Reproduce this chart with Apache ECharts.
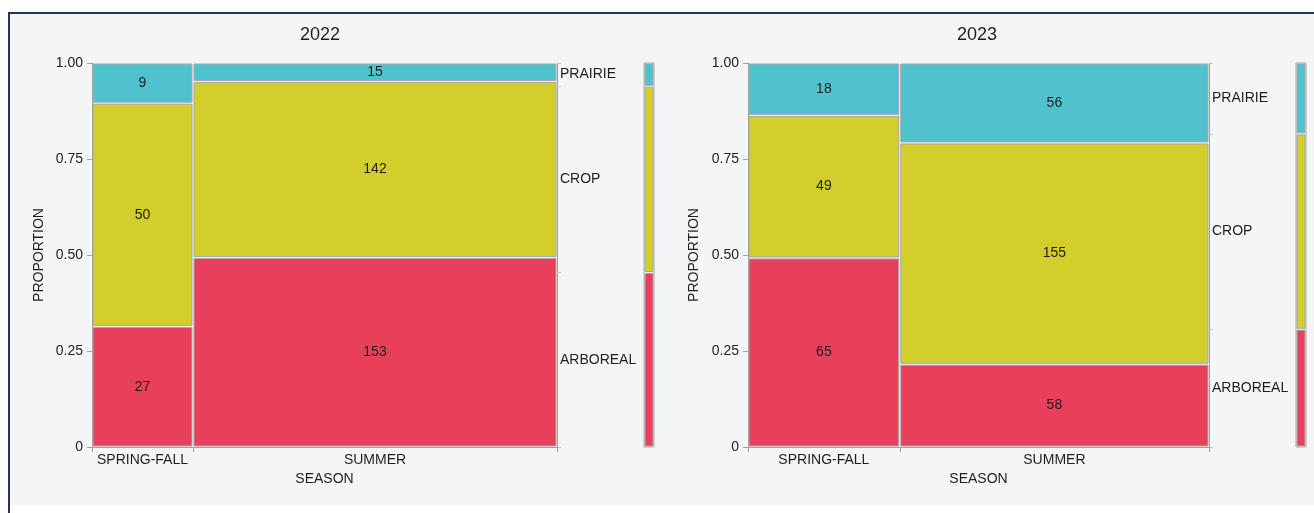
<!DOCTYPE html>
<html>
<head>
<meta charset="utf-8">
<script src="https://cdn.jsdelivr.net/npm/echarts@6/dist/echarts.min.js"></script>
<style>
  html, body { margin: 0; padding: 0; background: #fff; }
  #chart { width: 1314px; height: 513px; }
</style>
</head>
<body>
<div id="chart"></div>
<script>
  const years = ['2022', '2023']
  const seasons = ['SPRING-FALL', 'SUMMER']
  const habitats = ['ARBOREAL', 'CROP', 'PRAIRIE']
  // counts per season, stacked bottom to top: arboreal, crop, prairie
  const counts2022 = [[27, 50, 9], [153, 142, 15]]
  const counts2023 = [[65, 49, 18], [58, 155, 56]]
  const yTicks = [0, 0.25, 0.5, 0.75, 1]

  const colors = ['#e8405a', '#d3ce2c', '#50c2cd']
  const font = '"Liberation Sans", Arial, sans-serif'
  const textColor = '#1e1e1e'
  const axisGray = '#a0a0a0'

  // turn a count table into mosaic cells and the marginal bar
  function mosaic(counts) {
    const colTotals = counts.map(c => c.reduce((a, b) => a + b, 0))
    const total = colTotals.reduce((a, b) => a + b, 0)
    const cells = []
    const xBounds = [0]
    const xMids = []
    let x = 0
    counts.forEach((col, i) => {
      const w = colTotals[i] / total
      let y = 0
      col.forEach((n, h) => {
        const hgt = n / colTotals[i]
        cells.push([x, x + w, y, y + hgt, n, h])
        y += hgt
      })
      xMids.push(x + w / 2)
      x += w
      xBounds.push(x)
    })
    // overall proportions per habitat
    const margin = []
    const yBounds = [0]
    const yMids = []
    let y = 0
    habitats.forEach((name, h) => {
      const n = counts.reduce((a, col) => a + col[h], 0)
      const hgt = n / total
      margin.push([0, 1, y, y + hgt, -1, h])
      yMids.push(y + hgt / 2)
      y += hgt
      yBounds.push(y)
    })
    return { cells, xBounds, xMids, margin, yBounds, yMids }
  }

  const plots = [mosaic(counts2022), mosaic(counts2023)]

  function renderCell(params, api) {
    const p0 = api.coord([api.value(0), api.value(3)])
    const p1 = api.coord([api.value(1), api.value(2)])
    const n = api.value(4)
    const children = [{
      type: 'rect',
      shape: { x: p0[0] + 1, y: p0[1] + 1, width: p1[0] - p0[0] - 2, height: p1[1] - p0[1] - 2 },
      style: { fill: colors[api.value(5)], stroke: '#a8a8a8', lineWidth: 1 }
    }]
    if (n >= 0) {
      children.push({
        type: 'text',
        x: (p0[0] + p1[0]) / 2,
        y: (p0[1] + p1[1]) / 2,
        style: { text: String(n), fill: textColor, font: '14px ' + font, align: 'center', verticalAlign: 'middle' }
      })
    }
    return { type: 'group', children }
  }

  function pick(list, names) {
    return v => {
      const i = list.findIndex(m => Math.abs(m - v) < 1e-9)
      return i < 0 ? '' : names[i]
    }
  }

  const mainGrids = [
    { left: 92, top: 63, width: 465, height: 384 },
    { left: 748, top: 63, width: 461, height: 384 }
  ]
  const barGrids = [
    { left: 644, top: 63, width: 10, height: 384, show: true, borderColor: '#a8a8a8', borderWidth: 1, backgroundColor: 'transparent' },
    { left: 1296, top: 63, width: 10, height: 384, show: true, borderColor: '#a8a8a8', borderWidth: 1, backgroundColor: 'transparent' }
  ]
  const nameGaps = [46, 47]

  const grid = [], xAxis = [], yAxis = [], series = []
  plots.forEach((p, k) => {
    const g = grid.length
    grid.push(mainGrids[k], barGrids[k])
    xAxis.push({
      gridIndex: g, type: 'value', min: 0, max: 1,
      name: 'SEASON', nameLocation: 'middle', nameGap: 24,
      nameTextStyle: { fontFamily: font, fontSize: 14, color: textColor },
      axisLine: { lineStyle: { color: axisGray } },
      axisTick: { customValues: p.xBounds, length: 5, lineStyle: { color: axisGray } },
      axisLabel: { customValues: p.xMids, formatter: pick(p.xMids, seasons), margin: 6,
        fontFamily: font, fontSize: 14, color: textColor },
      splitLine: { show: false }
    }, {
      gridIndex: g + 1, type: 'value', min: 0, max: 1, show: false
    })
    yAxis.push({
      gridIndex: g, type: 'value', min: 0, max: 1,
      name: 'PROPORTION', nameLocation: 'middle', nameGap: nameGaps[k],
      nameTextStyle: { fontFamily: font, fontSize: 14, color: textColor },
      axisLine: { show: true, lineStyle: { color: axisGray } },
      axisTick: { customValues: yTicks, length: 5, lineStyle: { color: axisGray } },
      axisLabel: { customValues: yTicks, formatter: v => v === 0 ? '0' : v.toFixed(2), margin: 9,
        fontFamily: font, fontSize: 14, color: textColor },
      splitLine: { show: false }
    }, {
      gridIndex: g, type: 'value', min: 0, max: 1, position: 'right',
      axisLine: { show: true, lineStyle: { color: axisGray } },
      axisTick: { customValues: p.yBounds, length: 4, lineStyle: { color: '#c8c8c8' } },
      axisLabel: { customValues: p.yMids, formatter: pick(p.yMids, habitats), margin: 3,
        fontFamily: font, fontSize: 14, color: textColor },
      splitLine: { show: false }
    }, {
      gridIndex: g + 1, type: 'value', min: 0, max: 1, show: false
    })
    series.push({
      type: 'custom', xAxisIndex: 2 * k, yAxisIndex: 3 * k,
      renderItem: renderCell, data: p.cells, silent: true
    }, {
      type: 'custom', xAxisIndex: 2 * k + 1, yAxisIndex: 3 * k + 2,
      renderItem: renderCell, data: p.margin, silent: true
    })
  })

  const chart = echarts.init(document.getElementById('chart'))
  chart.setOption({
    animation: false,
    backgroundColor: '#ffffff',
    graphic: [
      { type: 'rect', z: -10, shape: { x: 9, y: 13, width: 1305, height: 492 }, style: { fill: '#f3f5f7' } },
      { type: 'line', z: -9, shape: { x1: 8, y1: 13, x2: 1314, y2: 13 }, style: { stroke: '#2b3152', lineWidth: 2 } },
      { type: 'line', z: -9, shape: { x1: 9, y1: 12, x2: 9, y2: 513 }, style: { stroke: '#2b3152', lineWidth: 2 } },
      { type: 'text', x: 320, y: 35, style: { text: years[0], font: '18px ' + font, fill: textColor, align: 'center', verticalAlign: 'middle' } },
      { type: 'text', x: 977, y: 35, style: { text: years[1], font: '18px ' + font, fill: textColor, align: 'center', verticalAlign: 'middle' } }
    ],
    grid, xAxis, yAxis, series
  })
</script>
</body>
</html>
